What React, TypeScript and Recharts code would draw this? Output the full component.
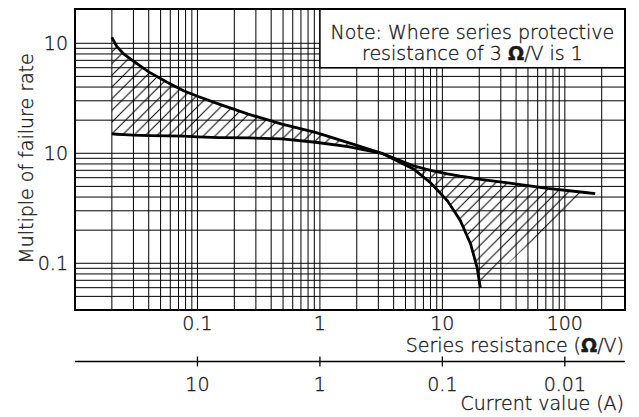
import React from "react";
import {
  Area,
  CartesianGrid,
  ComposedChart,
  Line,
  ReferenceArea,
  XAxis,
  YAxis,
} from "recharts";

const resistance = [
  0.02, 0.022, 0.025, 0.03, 0.04, 0.057, 0.077, 0.1, 0.15, 0.26, 0.49, 0.92,
  1.7, 3.2, 5.8, 8, 11, 14, 17, 19.2, 20.4, 38, 72, 147, 177,
];
// steep curve: high at low resistance, drops off past 3 Ω/V
const steepCurve = [
  11.3, 9.3, 8.0, 6.9, 5.5, 4.4, 3.7, 3.3, 2.8, 2.27, 1.84, 1.55, 1.25, 1.0,
  0.72, 0.54, 0.37, 0.245, 0.15, 0.092, 0.06, null, null, null, null,
];
// flat curve
const flatCurve = [
  1.5, 1.49, 1.48, 1.46, 1.45, 1.44, 1.43, 1.41, 1.39, 1.38, 1.35, 1.26, 1.15,
  1.0, 0.77, 0.7, 0.65, 0.62, 0.6, 0.585, 0.58, 0.53, 0.48, 0.44, 0.43,
];
// straight lower edge of the right-hand hatched region
const hatchEdge = [
  null, null, null, null, null, null, null, null, null, null, null, null, null,
  null, null, null, null, null, null, null, 0.06, 0.11, 0.21, 0.44, null,
];

const xMajorTicks = [0.1, 1, 10, 100];
const xMajorLabels = ["0.1", "1", "10", "100"];
const yMajorTicks = [0.1, 1, 10];
const yMajorLabels = ["0.1", "10", "10"];
const currentTicks = [10, 1, 0.1, 0.01];
const currentLabels = ["10", "1", "0.1", "0.01"];

const X_DOMAIN: [number, number] = [0.01, 310];
const Y_DOMAIN: [number, number] = [0.0376, 20.5];
// current (A) = 1 / resistance (Ω/V)
const CURRENT_DOMAIN: [number, number] = [1 / X_DOMAIN[1], 1 / X_DOMAIN[0]];

const mantissas = [1, 2, 3, 4, 5, 6, 7, 8, 9];
const xGrid = [0.01, 0.1, 1, 10, 100]
  .flatMap((d) => mantissas.map((m) => +(m * d).toPrecision(3)))
  .filter((v) => v > 0.01 && v < 290);
const yGrid = [0.01, 0.1, 1, 10]
  .flatMap((d) => mantissas.map((m) => +(m * d).toPrecision(3)))
  .filter((v) => v >= 0.05 && v <= 10);

const data = resistance.map((r, i) => {
  const a = steepCurve[i];
  const b = flatCurve[i];
  const e = hatchEdge[i];
  let hatch: number[] | null = null;
  if (a != null && b != null) hatch = [Math.min(a, b), Math.max(a, b)];
  else if (e != null && b != null) hatch = [e, b];
  return { r, current: 1 / r, steep: a, flat: b, hatch };
});

const FONT = "'DejaVu Sans', sans-serif";
const INK = "#1a1a1a";
const FS = 19;
const txt = {
  fontFamily: FONT,
  fontWeight: 300,
  fontSize: FS,
  fill: INK,
  stroke: INK,
  strokeWidth: 0.35,
};

const findIdx = (list: number[], v: number) =>
  list.findIndex((t) => Math.abs(t - v) < 1e-9);

const XTick = (props: any) => {
  const { x, y, payload } = props;
  const i = findIdx(xMajorTicks, payload.value);
  if (i < 0) return <g />;
  return (
    <text x={x} y={y + 19.5} textAnchor="middle" {...txt}>
      {xMajorLabels[i]}
    </text>
  );
};

const YTick = (props: any) => {
  const { x, y, payload } = props;
  const i = findIdx(yMajorTicks, payload.value);
  if (i < 0) return <g />;
  return (
    <text x={x} y={y + 6.8} textAnchor="end" {...txt}>
      {yMajorLabels[i]}
    </text>
  );
};

const CurrentTick = (props: any) => {
  const { x, y, payload } = props;
  const i = findIdx(currentTicks, payload.value);
  return (
    <g>
      <line x1={x} x2={x} y1={y - 5} y2={y + 5} stroke="#000" strokeWidth={1.3} />
      <text x={x} y={y + 29.5} textAnchor="middle" {...txt}>
        {i >= 0 ? currentLabels[i] : ""}
      </text>
    </g>
  );
};

const ResistanceTitle = (props: any) => {
  const { x, y, width } = props.viewBox;
  return (
    <text x={x + width - 1} y={y + 41.5} textAnchor="end" {...txt}>
      Series resistance (<tspan fontWeight="bold">Ω</tspan>/V)
    </text>
  );
};

const CurrentTitle = (props: any) => {
  const { x, y, width } = props.viewBox;
  return (
    <text x={x + width - 1} y={y + 48} textAnchor="end" {...txt}>
      Current value (A)
    </text>
  );
};

const YTitle = (props: any) => {
  const { y, height } = props.viewBox;
  const cx = 33;
  const cy = y + height / 2 - 1;
  return (
    <text
      x={cx}
      y={cy}
      transform={`rotate(-90, ${cx}, ${cy})`}
      textAnchor="middle"
      {...txt}
    >
      Multiple of failure rate
    </text>
  );
};

const NoteText = (props: any) => {
  const { x, y, width } = props.viewBox;
  const cx = x + width / 2;
  return (
    <g>
      <text x={cx} y={y + 29.5} textAnchor="middle" {...txt}>
        Note: Where series protective
      </text>
      <text x={cx} y={y + 51} textAnchor="middle" {...txt}>
        resistance of 3 <tspan fontWeight="bold">Ω</tspan>/V is 1
      </text>
    </g>
  );
};

export default function App() {
  return (
    <div style={{ position: "absolute", left: 0, top: 0 }}>
      <ComposedChart
        width={639}
        height={417}
        data={data}
        margin={{ top: 9, right: 14, bottom: 0, left: 0 }}
      >
        <defs>
          <pattern id="hatch" patternUnits="userSpaceOnUse" width={11.7} height={11.7}>
            <path
              d="M-1,1 L1,-1 M0,11.7 L11.7,0 M10.7,12.7 L12.7,10.7"
              stroke="#000"
              strokeWidth={1}
            />
          </pattern>
        </defs>
        <CartesianGrid stroke="#000" strokeWidth={1} />
        <XAxis
          dataKey="r"
          type="number"
          scale="log"
          domain={X_DOMAIN}
          allowDataOverflow
          ticks={xGrid}
          interval={0}
          height={51.5}
          axisLine={false}
          tickLine={false}
          tickSize={0}
          tickMargin={0}
          tick={<XTick />}
          label={<ResistanceTitle />}
        />
        <XAxis
          xAxisId="current"
          dataKey="current"
          type="number"
          scale="log"
          domain={CURRENT_DOMAIN}
          allowDataOverflow
          reversed
          ticks={currentTicks}
          interval={0}
          height={55.5}
          axisLine={{ stroke: "#000", strokeWidth: 1.3 }}
          tickLine={false}
          tickSize={0}
          tickMargin={0}
          tick={<CurrentTick />}
          label={<CurrentTitle />}
        />
        <YAxis
          type="number"
          scale="log"
          domain={Y_DOMAIN}
          allowDataOverflow
          ticks={yGrid}
          interval={0}
          width={75}
          axisLine={false}
          tickLine={false}
          tickSize={0}
          tickMargin={7}
          tick={<YTick />}
          label={<YTitle />}
        />
        <Area
          dataKey="hatch"
          type="linear"
          fill="url(#hatch)"
          fillOpacity={1}
          stroke="none"
          isAnimationActive={false}
        />
        <Line
          dataKey="steep"
          type="linear"
          stroke="#000"
          strokeWidth={2.8}
          dot={false}
          isAnimationActive={false}
        />
        <Line
          dataKey="flat"
          type="linear"
          stroke="#000"
          strokeWidth={2.8}
          dot={false}
          isAnimationActive={false}
        />
        {/* invisible twin of the flat curve so the current axis gets a scale */}
        <Line
          xAxisId="current"
          dataKey="flat"
          stroke="none"
          dot={false}
          activeDot={false}
          legendType="none"
          isAnimationActive={false}
        />
        <ReferenceArea
          x1={1}
          x2={X_DOMAIN[1]}
          y1={6}
          y2={Y_DOMAIN[1]}
          fill="#fff"
          fillOpacity={1}
          stroke="#000"
          strokeWidth={1.5}
          ifOverflow="visible"
          label={<NoteText />}
        />
        <ReferenceArea
          x1={X_DOMAIN[0]}
          x2={X_DOMAIN[1]}
          y1={Y_DOMAIN[0]}
          y2={Y_DOMAIN[1]}
          fill="none"
          stroke="#000"
          strokeWidth={2}
          ifOverflow="visible"
        />
      </ComposedChart>
    </div>
  );
}
